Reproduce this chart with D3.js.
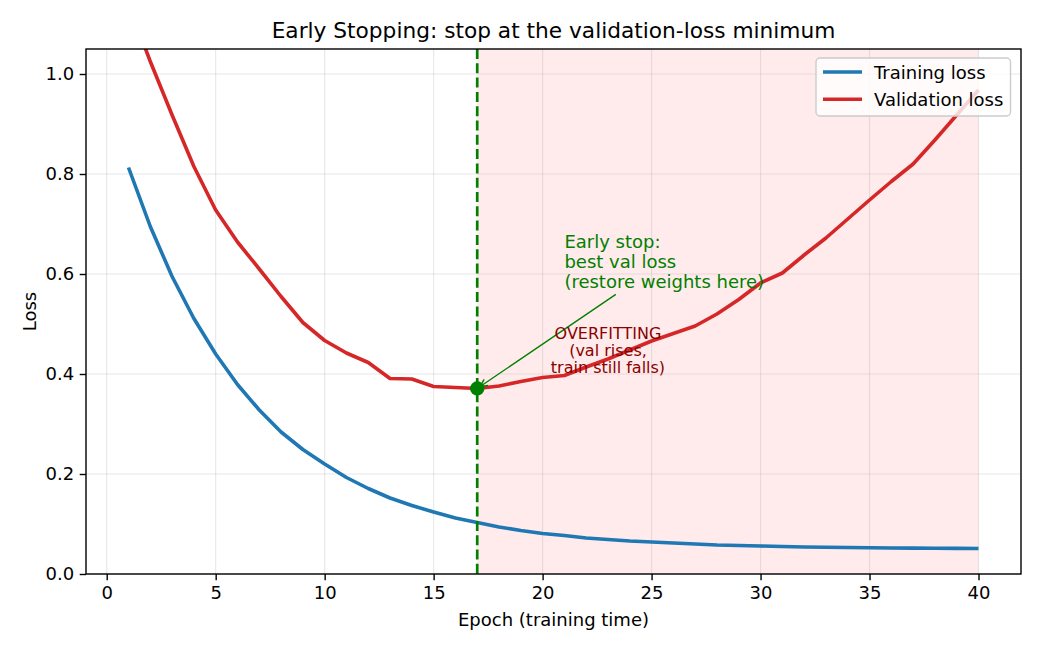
<!DOCTYPE html>
<html>
<head>
<meta charset="utf-8">
<script src="https://cdn.jsdelivr.net/npm/d3@7"></script>
<style>
  body { margin: 0; background: #fff; }
  svg { display: block; font-family: "DejaVu Sans", sans-serif; }
</style>
</head>
<body>
<svg id="chart" width="1040" height="650"></svg>
<script>
// values
const epochs = [1, 2, 3, 4, 5, 6, 7, 8, 9, 10, 11, 12, 13, 14, 15, 16, 17, 18, 19, 20,
  21, 22, 23, 24, 25, 26, 27, 28, 29, 30, 31, 32, 33, 34, 35, 36, 37, 38, 39, 40];
const trainLoss = [0.813, 0.695, 0.595, 0.511, 0.440, 0.379, 0.328, 0.284, 0.249, 0.220,
  0.193, 0.171, 0.152, 0.137, 0.124, 0.112, 0.103, 0.094, 0.087, 0.081,
  0.077, 0.072, 0.069, 0.066, 0.064, 0.062, 0.060, 0.058, 0.057, 0.056,
  0.055, 0.054, 0.0535, 0.053, 0.0525, 0.052, 0.0518, 0.0515, 0.0513, 0.051];
const valLoss = [1.14, 1.025, 0.918, 0.815, 0.728, 0.664, 0.610, 0.555, 0.503, 0.467,
  0.442, 0.423, 0.391, 0.390, 0.375, 0.373, 0.371, 0.376, 0.385, 0.393,
  0.397, 0.414, 0.430, 0.448, 0.466, 0.481, 0.496, 0.520, 0.549, 0.582,
  0.602, 0.638, 0.672, 0.710, 0.748, 0.785, 0.820, 0.868, 0.918, 0.968];
const seriesNames = ["Training loss", "Validation loss"];
const xTicks = [0, 5, 10, 15, 20, 25, 30, 35, 40];
const yTicks = [0.0, 0.2, 0.4, 0.6, 0.8, 1.0];
const stopEpoch = 17;
const stopLoss = 0.371;
const lastEpoch = 40;
const stopText = ["Early stop:", "best val loss", "(restore weights here)"];
const stopTextAt = [21, 0.653];
const overfitText = ["OVERFITTING", "(val rises,", "train still falls)"];
const overfitTextAt = [23, 0.4476];

const W = 1040, H = 650;
const margin = {top: 49, right: 19, bottom: 76, left: 86};
const iw = W - margin.left - margin.right;
const ih = H - margin.top - margin.bottom;

const blue = "#1f77b4", red = "#d62728", green = "#008000", darkred = "#8b0000";

const svg = d3.select("#chart");

const x = d3.scaleLinear().domain([-0.95, 41.95]).range([0, iw]);
const y = d3.scaleLinear().domain([0, 1.05]).range([ih, 0]);

svg.append("defs").append("clipPath").attr("id", "plotclip")
  .append("rect").attr("width", iw).attr("height", ih);

const g = svg.append("g").attr("transform", `translate(${margin.left},${margin.top})`);

// overfitting region
g.append("rect")
  .attr("x", x(stopEpoch)).attr("y", 0)
  .attr("width", x(lastEpoch) - x(stopEpoch)).attr("height", ih)
  .attr("fill", "red").attr("fill-opacity", 0.08);

// grid
g.append("g").selectAll("line").data(xTicks).join("line")
  .attr("x1", d => x(d)).attr("x2", d => x(d)).attr("y1", 0).attr("y2", ih)
  .attr("stroke", "#b0b0b0").attr("stroke-opacity", 0.3).attr("stroke-width", 1.1);
g.append("g").selectAll("line").data(yTicks).join("line")
  .attr("y1", d => y(d)).attr("y2", d => y(d)).attr("x1", 0).attr("x2", iw)
  .attr("stroke", "#b0b0b0").attr("stroke-opacity", 0.3).attr("stroke-width", 1.1);

// curves
const plot = g.append("g").attr("clip-path", "url(#plotclip)");
const line = d3.line().x((d, i) => x(epochs[i])).y(d => y(d));
plot.append("path").datum(trainLoss).attr("d", line)
  .attr("fill", "none").attr("stroke", blue).attr("stroke-width", 3.6).attr("stroke-linejoin", "round");
plot.append("path").datum(valLoss).attr("d", line)
  .attr("fill", "none").attr("stroke", red).attr("stroke-width", 3.6).attr("stroke-linejoin", "round");

// stop line + marker
plot.append("line")
  .attr("x1", x(stopEpoch)).attr("x2", x(stopEpoch)).attr("y1", 0).attr("y2", ih)
  .attr("stroke", green).attr("stroke-width", 2.7).attr("stroke-dasharray", "10,4.3");
plot.append("circle")
  .attr("cx", x(stopEpoch)).attr("cy", y(stopLoss)).attr("r", 7.2).attr("fill", green);

// annotation text
const stopG = g.append("text")
  .attr("fill", green).attr("font-size", 18);
stopText.forEach((t, i) => {
  stopG.append("tspan").attr("x", x(stopTextAt[0])).attr("y", y(stopTextAt[1]) + i * 20.4).text(t);
});

// arrow: from the text box toward the point, like matplotlib annotate
const bb = stopG.node().getBBox();
const cx = bb.x + bb.width / 2, cy = bb.y + bb.height / 2;
const px = x(stopEpoch), py = y(stopLoss);
let dx = px - cx, dy = py - cy;
const len = Math.hypot(dx, dy);
const ux = dx / len, uy = dy / len;
const tExit = Math.min((bb.height / 2) / Math.abs(uy), (bb.width / 2) / Math.abs(ux));
const sx = cx + ux * (tExit + 3.6), sy = cy + uy * (tExit + 3.6);
const ex = px - ux * 3.6, ey = py - uy * 3.6;
g.append("line").attr("x1", sx).attr("y1", sy).attr("x2", ex).attr("y2", ey)
  .attr("stroke", green).attr("stroke-width", 1.4);
const hl = 7.2, hw = 3.6;
const bx = ex - ux * hl, by = ey - uy * hl;
g.append("path")
  .attr("d", `M${bx - uy * hw},${by + ux * hw}L${ex},${ey}L${bx + uy * hw},${by - ux * hw}`)
  .attr("fill", "none").attr("stroke", green).attr("stroke-width", 1.4);

// overfitting label
const ovG = g.append("text")
  .attr("fill", darkred).attr("font-size", 16).attr("text-anchor", "middle");
overfitText.forEach((t, i) => {
  ovG.append("tspan").attr("x", x(overfitTextAt[0]))
    .attr("y", y(overfitTextAt[1]) + (i - 1) * 16.9 + 5.5).text(t);
});

// axes
const xAxis = g.append("g").attr("transform", `translate(0,${ih})`)
  .call(d3.axisBottom(x).tickValues(xTicks).tickSize(6.3).tickPadding(5.5).tickFormat(d3.format("d")));
const yAxis = g.append("g")
  .call(d3.axisLeft(y).tickValues(yTicks).tickSize(6.3).tickPadding(5.5).tickFormat(d3.format(".1f")));
[xAxis, yAxis].forEach(a => {
  a.select(".domain").remove();
  a.selectAll(".tick line").attr("stroke", "#000").attr("stroke-width", 1.4);
  a.selectAll(".tick text").attr("font-size", 18).attr("fill", "#000").attr("font-family", "DejaVu Sans");
});

// frame
g.append("rect").attr("width", iw).attr("height", ih)
  .attr("fill", "none").attr("stroke", "#000").attr("stroke-width", 1.4);

// legend
const lg = g.append("g").attr("transform", `translate(${iw - 205},${9})`);
lg.append("rect").attr("width", 194.5).attr("height", 58).attr("rx", 4)
  .attr("fill", "#fff").attr("fill-opacity", 0.8).attr("stroke", "#cccccc").attr("stroke-width", 1.4);
[blue, red].forEach((c, i) => {
  const yy = 14 + i * 27.3;
  lg.append("line").attr("x1", 7).attr("x2", 46).attr("y1", yy).attr("y2", yy)
    .attr("stroke", c).attr("stroke-width", 3.6);
  lg.append("text").attr("x", 58).attr("y", yy + 6.5).attr("font-size", 18).attr("fill", "#000")
    .text(seriesNames[i]);
});

// titles
svg.append("text").attr("x", margin.left + iw / 2).attr("y", 38)
  .attr("text-anchor", "middle").attr("font-size", 21.7).attr("fill", "#000")
  .text("Early Stopping: stop at the validation-loss minimum");
svg.append("text").attr("x", margin.left + iw / 2).attr("y", 626)
  .attr("text-anchor", "middle").attr("font-size", 18).attr("fill", "#000")
  .text("Epoch (training time)");
svg.append("text").attr("transform", `translate(36,${margin.top + ih / 2}) rotate(-90)`)
  .attr("text-anchor", "middle").attr("font-size", 18).attr("fill", "#000")
  .text("Loss");
</script>
</body>
</html>
